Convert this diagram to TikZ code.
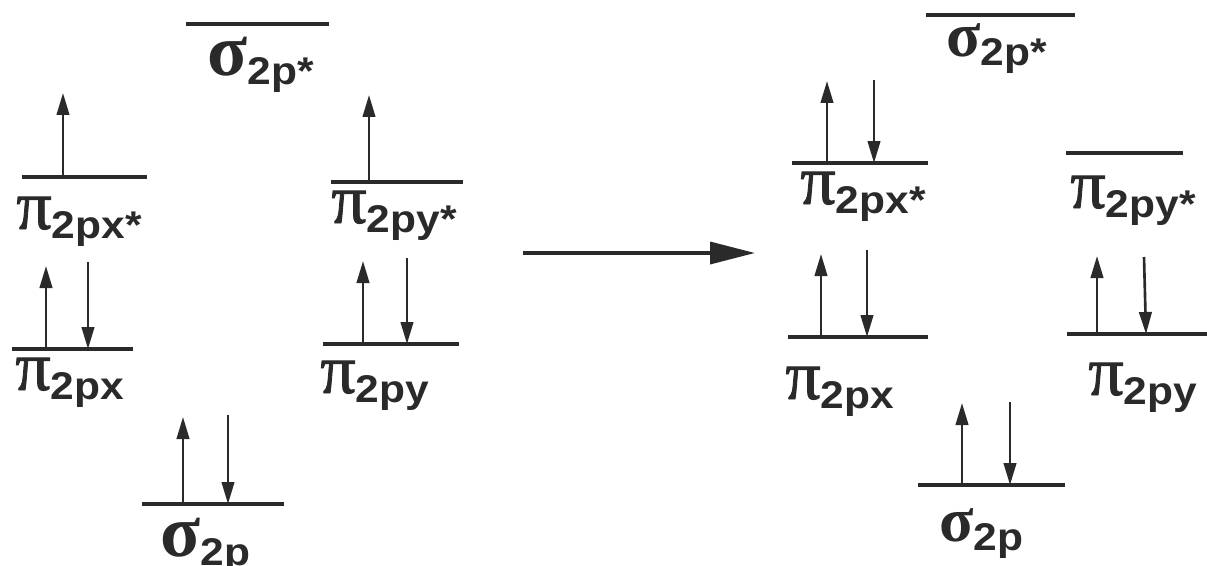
\documentclass[tikz,border=0pt]{standalone}
\usepackage{fontspec}
\setmainfont{Liberation Sans}
\newfontfamily\grkfont{Liberation Serif}
\newfontfamily\pifont{Liberation Serif}[FakeBold=1.2]
\newfontfamily\subfont{Liberation Sans}[FakeStretch=1.1]
\usetikzlibrary{arrows.meta}
\definecolor{ink}{HTML}{2A2A2A}
\newcommand\orb[3]{{\fontsize{#3}{#3}\selectfont #1}\raisebox{-5.5pt}{\subfont\bfseries\fontsize{22pt}{22pt}\selectfont #2}}
\newcommand\PI{{\pifont π}}
\newcommand\SG{{\grkfont\bfseries σ}}
\tikzset{
  level/.style={draw=ink, line width=2.1pt},
  spin/.style={draw=ink, line width=1.5pt, -{Triangle[length=0.44cm,width=0.25cm]}},
  lbl/.style={anchor=base west, inner sep=0pt, text=ink},
  bigarrow/.style={draw=ink, line width=2pt, -{Triangle[length=0.9cm,width=0.44cm]}}
}
\begin{document}
\begin{tikzpicture}[x=0.02cm,y=-0.02cm]
\useasboundingbox (0,0) rectangle (1207,565);
% ---------- left panel ----------
% sigma 2p*
\coordinate (Ls1) at (186,24); \coordinate (Ls2) at (329,24);
\draw[level] (Ls1) -- (Ls2);
\node[lbl] (Lsslbl) at (207,75) {\orb{\SG}{2p*}{42pt}};
% pi 2px*
\coordinate (Lpx1) at (22,177); \coordinate (Lpx2) at (147,177);
\draw[level] (Lpx1) -- (Lpx2);
\coordinate (LpxU0) at (63,177); \coordinate (LpxU1) at (63,93);
\draw[spin] (LpxU0) -- (LpxU1);
\node[lbl] (Lpxslbl) at (16,229) {\orb{\PI}{2px*}{40pt}};
% pi 2py*
\coordinate (Lpy1) at (331,182); \coordinate (Lpy2) at (463,182);
\draw[level] (Lpy1) -- (Lpy2);
\coordinate (LpyU0) at (369,182); \coordinate (LpyU1) at (369,95);
\draw[spin] (LpyU0) -- (LpyU1);
\node[lbl] (Lpyslbl) at (331,223) {\orb{\PI}{2py*}{40pt}};
% pi 2px
\coordinate (Lbx1) at (12,349); \coordinate (Lbx2) at (133,349);
\draw[level] (Lbx1) -- (Lbx2);
\coordinate (LbxU0) at (46,349); \coordinate (LbxU1) at (46,266);
\coordinate (LbxD0) at (88,262); \coordinate (LbxD1) at (88,349);
\draw[spin] (LbxU0) -- (LbxU1);
\draw[spin] (LbxD0) -- (LbxD1);
\node[lbl] (Lbxlbl) at (15,390) {\orb{\PI}{2px}{40pt}};
% pi 2py
\coordinate (Lby1) at (323,344); \coordinate (Lby2) at (459,344);
\draw[level] (Lby1) -- (Lby2);
\coordinate (LbyU0) at (363,344); \coordinate (LbyU1) at (363,261);
\coordinate (LbyD0) at (407,258); \coordinate (LbyD1) at (407,344);
\draw[spin] (LbyU0) -- (LbyU1);
\draw[spin] (LbyD0) -- (LbyD1);
\node[lbl] (Lbylbl) at (320,393) {\orb{\PI}{2py}{40pt}};
% sigma 2p
\coordinate (Lsb1) at (142,504); \coordinate (Lsb2) at (284,504);
\draw[level] (Lsb1) -- (Lsb2);
\coordinate (LsbU0) at (183,504); \coordinate (LsbU1) at (183,417);
\coordinate (LsbD0) at (228,415); \coordinate (LsbD1) at (228,504);
\draw[spin] (LsbU0) -- (LsbU1);
\draw[spin] (LsbD0) -- (LsbD1);
\node[lbl] (Lsblbl) at (160,556) {\orb{\SG}{2p}{42pt}};
% ---------- reaction arrow ----------
\coordinate (A0) at (523,253); \coordinate (A1) at (755,253);
\draw[bigarrow] (A0) -- (A1);
% ---------- right panel ----------
% sigma 2p*
\coordinate (Rs1) at (926,15); \coordinate (Rs2) at (1075,15);
\draw[level] (Rs1) -- (Rs2);
\node[lbl] (Rsslbl) at (946,56) {\orb{\SG}{2p*}{36pt}};
% pi 2px*
\coordinate (Rpx1) at (792,163); \coordinate (Rpx2) at (928,163);
\draw[level] (Rpx1) -- (Rpx2);
\coordinate (RpxU0) at (827,163); \coordinate (RpxU1) at (827,81);
\coordinate (RpxD0) at (874,80); \coordinate (RpxD1) at (874,163);
\draw[spin] (RpxU0) -- (RpxU1);
\draw[spin] (RpxD0) -- (RpxD1);
\node[lbl] (Rpxslbl) at (800,204) {\orb{\PI}{2px*}{40pt}};
% pi 2py*
\coordinate (Rpy1) at (1066,153); \coordinate (Rpy2) at (1183,153);
\draw[level] (Rpy1) -- (Rpy2);
\node[lbl] (Rpyslbl) at (1070,208) {\orb{\PI}{2py*}{40pt}};
% pi 2px
\coordinate (Rbx1) at (788,337); \coordinate (Rbx2) at (928,337);
\draw[level] (Rbx1) -- (Rbx2);
\coordinate (RbxU0) at (821,337); \coordinate (RbxU1) at (821,254);
\coordinate (RbxD0) at (867,250); \coordinate (RbxD1) at (867,337);
\draw[spin] (RbxU0) -- (RbxU1);
\draw[spin] (RbxD0) -- (RbxD1);
\node[lbl] (Rbxlbl) at (785,399) {\orb{\PI}{2px}{40pt}};
% pi 2py
\coordinate (Rby1) at (1067,334); \coordinate (Rby2) at (1207,334);
\draw[level] (Rby1) -- (Rby2);
\coordinate (RbyU0) at (1097,334); \coordinate (RbyU1) at (1097,256);
\coordinate (RbyD0) at (1144,257); \coordinate (RbyD1) at (1146,334);
\draw[spin] (RbyU0) -- (RbyU1);
\draw[spin] (RbyD0) -- (RbyD1);
\node[lbl] (Rbylbl) at (1088,395) {\orb{\PI}{2py}{40pt}};
% sigma 2p
\coordinate (Rsb1) at (918,485); \coordinate (Rsb2) at (1065,485);
\draw[level] (Rsb1) -- (Rsb2);
\coordinate (RsbU0) at (962,485); \coordinate (RsbU1) at (962,403);
\coordinate (RsbD0) at (1010,402); \coordinate (RsbD1) at (1010,485);
\draw[spin] (RsbU0) -- (RsbU1);
\draw[spin] (RsbD0) -- (RsbD1);
\node[lbl] (Rsblbl) at (939,541) {\orb{\SG}{2p}{36pt}};
\end{tikzpicture}
\end{document}
